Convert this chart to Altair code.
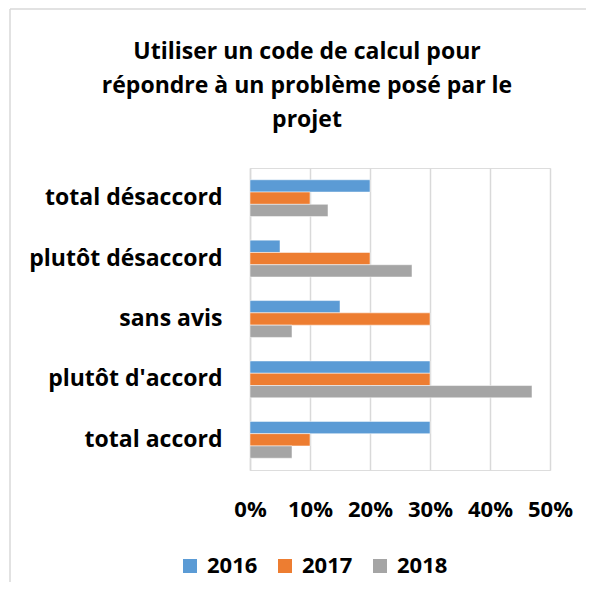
import altair as alt
import pandas as pd

categories = ["total désaccord", "plutôt désaccord", "sans avis", "plutôt d'accord", "total accord"]
years = ["2016", "2017", "2018"]
v2016 = [0.20, 0.05, 0.15, 0.30, 0.30]
v2017 = [0.10, 0.20, 0.30, 0.30, 0.10]
v2018 = [0.13, 0.27, 0.07, 0.47, 0.07]
colors = ["#5B9BD5", "#ED7D31", "#A5A5A5"]
title_text = "Utiliser un code de calcul pour\nrépondre à un problème posé par le\nprojet"

rows = []
for y, vals in zip(years, [v2016, v2017, v2018]):
    for c, v in zip(categories, vals):
        rows.append({"cat": c, "year": y, "val": v})
df = pd.DataFrame(rows)

FONT = "Open Sans"

bars = alt.Chart(df).mark_bar(stroke="white", strokeWidth=0.5).encode(
    y=alt.Y("cat:N", sort=categories, title=None,
            scale=alt.Scale(paddingInner=0.39, paddingOuter=0.195),
            axis=alt.Axis(labelFontSize=23, labelFont=FONT, labelFontWeight="bold",
                          labelColor="#000000", ticks=False, labelPadding=28,
                          domainColor="#d9d9d9", domainWidth=1.5, labelLimit=300)),
    yOffset=alt.YOffset("year:N", sort=years, scale=alt.Scale(paddingInner=0, paddingOuter=0)),
    x=alt.X("val:Q", title=None, scale=alt.Scale(domain=[0, 0.5], nice=False),
            axis=alt.Axis(format=".0%", values=[0, 0.1, 0.2, 0.3, 0.4, 0.5],
                          labelFontSize=22, labelFont=FONT, labelFontWeight="bold",
                          labelColor="#000000", ticks=False, domain=False,
                          labelOverlap=False, labelFlush=False,
                          gridColor="#d9d9d9", gridWidth=1.5, labelPadding=29)),
    color=alt.Color("year:N", sort=years, scale=alt.Scale(domain=years, range=colors),
                    legend=alt.Legend(title=None, orient="none", direction="horizontal",
                                      legendX=-71, legendY=387, symbolType="square",
                                      symbolSize=196, symbolStrokeWidth=0,
                                      labelFontSize=22, labelFont=FONT, labelFontWeight="bold",
                                      labelColor="#000000", columnPadding=16, labelOffset=6)),
)

one = pd.DataFrame({"a": [0]})
border_left = alt.Chart(one).mark_rule(color="#d9d9d9", strokeWidth=1.5).encode(
    x=alt.value(-240), y=alt.value(-159), y2=alt.value(440)
)
border_top = alt.Chart(one).mark_rule(color="#d9d9d9", strokeWidth=1.5).encode(
    x=alt.value(-240), x2=alt.value(345), y=alt.value(-159)
)

title = alt.Chart(one).mark_text(
    text=title_text, lineBreak="\n", font=FONT, fontSize=23, fontWeight="bold",
    color="#000000", align="center", baseline="alphabetic", lineHeight=34
).encode(x=alt.value(57), y=alt.value(-109))

chart = alt.layer(border_left, border_top, title, bars).properties(
    width=300, height=302,
    padding={"left": 242, "top": 160, "right": 36, "bottom": 112},
    autosize=alt.AutoSizeParams(type="none"),
).configure_view(stroke=None).configure(background="white")

chart.save("out.html", embed_options={"renderer": "svg", "actions": False})
